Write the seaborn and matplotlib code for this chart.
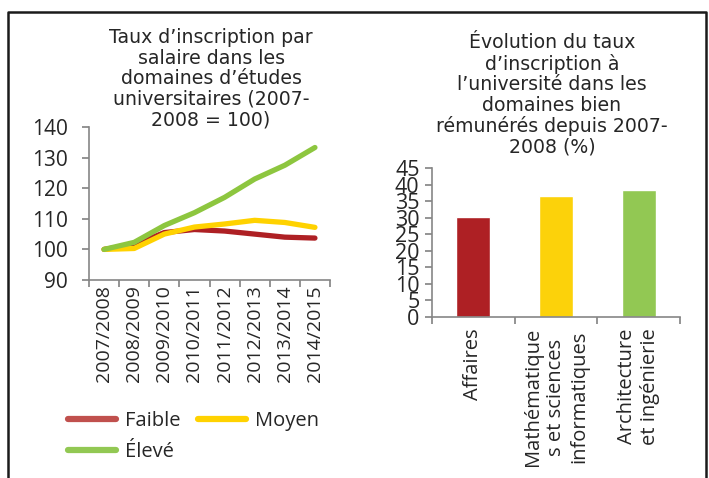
import pandas as pd
import numpy as np
import matplotlib
matplotlib.use("Agg")
import matplotlib.pyplot as plt
from matplotlib.lines import Line2D
import seaborn as sns

# data
years = ["2007/2008", "2008/2009", "2009/2010", "2010/2011",
         "2011/2012", "2012/2013", "2013/2014", "2014/2015"]
faible = [100, 101.5, 105.5, 106.5, 106.0, 105.0, 104.0, 103.7]
moyen = [100, 100.3, 105.0, 107.3, 108.3, 109.5, 108.8, 107.2]
eleve = [100, 102.3, 107.8, 112.0, 117.0, 123.0, 127.5, 133.3]
series_names = ["Faible", "Moyen", "Élevé"]

domains = ["Affaires", "Mathématique\ns et sciences\ninformatiques",
           "Architecture\net ingénierie"]
growth = [30.2, 36.6, 38.4]

line_colors = {"Faible": "#AE2024", "Moyen": "#FFD200", "Élevé": "#8DC63F"}
legend_colors = {"Faible": "#C0504D", "Moyen": "#FFD200", "Élevé": "#92C853"}
bar_colors = ["#AE2024", "#FCD20A", "#92C853"]

df_lines = pd.DataFrame({
    "annee": years * 3,
    "valeur": faible + moyen + eleve,
    "niveau": [n for n in series_names for _ in years],
})
df_bars = pd.DataFrame({"domaine": domains, "taux": growth})

sns.set_theme(style="white")
plt.rcParams["font.family"] = ["Open Sans", "DejaVu Sans"]

fig = plt.figure(figsize=(7.09, 4.78), dpi=100)
W, H = 709, 478


def box(l, t, r, b):
    return [l / W, 1 - b / H, (r - l) / W, (b - t) / H]


axis_grey = "#868686"

# ---- left chart: line plot
ax1 = fig.add_axes(box(89, 127, 330, 280))
sns.lineplot(data=df_lines, x="annee", y="valeur", hue="niveau",
             palette=line_colors, linewidth=3.8, sort=False, ax=ax1,
             legend=False)
ax1.set_xlim(-0.5, len(years) - 0.5)
ax1.set_ylim(90, 140)
ax1.set_yticks(range(90, 141, 10))
ax1.set_xticks(np.arange(-0.5, len(years), 1.0))
ax1.set_xticklabels([])
ax1.set_xticks(range(len(years)), minor=True)
ax1.set_xticklabels(years, minor=True, rotation=90, fontsize=14)
ax1.tick_params(axis="x", which="minor", length=0, pad=4)
ax1.tick_params(axis="x", which="major", length=5, color=axis_grey,
                direction="out", bottom=True)
ax1.tick_params(axis="y", length=5, color=axis_grey, direction="out",
                left=True, labelsize=15, pad=10)
ax1.set_xlabel("")
ax1.set_ylabel("")
for s in ["top", "right"]:
    ax1.spines[s].set_visible(False)
for s in ["left", "bottom"]:
    ax1.spines[s].set_color(axis_grey)
    ax1.spines[s].set_linewidth(1.2)

# ---- right chart: bar plot
ax2 = fig.add_axes(box(432, 168, 680, 317))
sns.barplot(data=df_bars, x="domaine", y="taux", hue="domaine",
            palette=bar_colors, width=0.41, saturation=1, ax=ax2,
            legend=False)
ax2.set_xlim(-0.5, len(domains) - 0.5)
ax2.set_ylim(0, 45)
ax2.set_yticks(range(0, 46, 5))
ax2.set_xticks(np.arange(-0.5, len(domains), 1.0))
ax2.set_xticklabels([])
ax2.set_xticks(range(len(domains)), minor=True)
ax2.set_xticklabels(domains, minor=True, rotation=90, fontsize=14.5,
                    linespacing=1.2, ha="center", va="top")
ax2.tick_params(axis="x", which="minor", length=0, pad=8)
ax2.tick_params(axis="x", which="major", length=5, color=axis_grey,
                direction="out", bottom=True)
ax2.tick_params(axis="y", length=5, color=axis_grey, direction="out",
                left=True, labelsize=15.5, pad=4)
ax2.set_xlabel("")
ax2.set_ylabel("")
for s in ["top", "right"]:
    ax2.spines[s].set_visible(False)
for s in ["left", "bottom"]:
    ax2.spines[s].set_color(axis_grey)
    ax2.spines[s].set_linewidth(1.2)

# ---- titles
fig.text(211 / W, 1 - 28 / H,
         "Taux d’inscription par\nsalaire dans les\ndomaines d’études\n"
         "universitaires (2007-\n2008 = 100)",
         ha="center", va="top", fontsize=13.6, linespacing=1.1,
         family=["DejaVu Sans"])
fig.text(552 / W, 1 - 33 / H,
         "Évolution du taux\nd’inscription à\nl’université dans les\n"
         "domaines bien\nrémunérés depuis 2007-\n2008 (%)",
         ha="center", va="top", fontsize=13.6, linespacing=1.1,
         family=["DejaVu Sans"])

# ---- legend
order = ["Faible", "Élevé", "Moyen"]
handles = [Line2D([], [], color=legend_colors[n], linewidth=4.5) for n in order]
fig.legend(handles, order, loc="upper left",
           bbox_to_anchor=(50 / W, 1 - 393 / H), ncol=2, frameon=False,
           fontsize=14.5, handlelength=2.4, columnspacing=0.9,
           labelspacing=0.55, handletextpad=0.4)

# ---- outer frame (left, top, right edges)
fx0, fx1, fy1 = 8 / W, 706 / W, 1 - 12 / H
fig.add_artist(Line2D([fx0, fx0, fx1, fx1], [0, fy1, fy1, 0],
                      transform=fig.transFigure, color="#1a1a1a",
                      linewidth=1.8))

fig.savefig("out.png", dpi=100)
